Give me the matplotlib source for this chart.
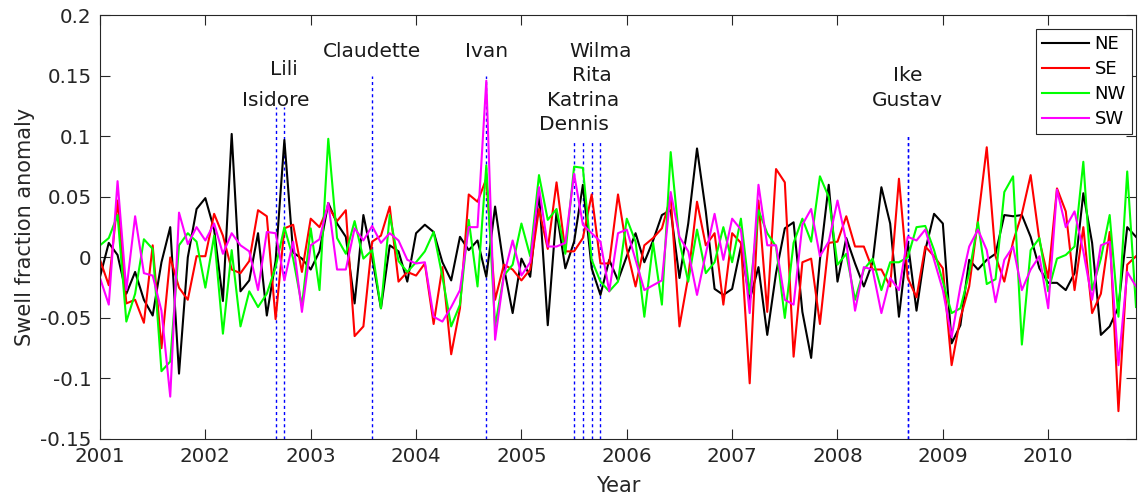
import numpy as np
import matplotlib
matplotlib.use('Agg')
import matplotlib.pyplot as plt

# monthly anomalies, Jan 2001 .. Nov 2010
ne = [-0.016, 0.012, 0.002, -0.030, -0.012, -0.035, -0.048, -0.004, 0.025, -0.096,
      0.000, 0.040, 0.049, 0.023, -0.036, 0.102, -0.028, -0.019, 0.020, -0.048,
      -0.003, 0.097, 0.004, -0.001, -0.010, 0.005, 0.045, 0.028, 0.017, -0.038,
      0.035, 0.000, -0.042, 0.010, 0.005, -0.020, 0.020, 0.027, 0.021, -0.004,
      -0.019, 0.017, 0.006, 0.014, -0.016, 0.042, -0.008, -0.046, -0.001, -0.016,
      0.054, -0.056, 0.038, -0.009, 0.013, 0.060, -0.009, -0.031, -0.002, -0.019,
      0.001, 0.020, -0.004, 0.014, 0.035, 0.039, -0.017, 0.028, 0.090, 0.038,
      -0.026, -0.031, -0.026, 0.009, -0.035, -0.008, -0.064, -0.013, 0.024, 0.029,
      -0.045, -0.083, -0.002, 0.060, -0.020, 0.016, -0.005, -0.024, -0.004, 0.058,
      0.028, -0.049, 0.013, -0.044, 0.006, 0.036, 0.028, -0.071, -0.056, -0.002,
      -0.010, -0.002, 0.003, 0.035, 0.034, 0.035, 0.017, -0.009, -0.021, -0.021,
      -0.027, -0.013, 0.053, 0.012, -0.064, -0.057, -0.041, 0.025, 0.017]
se = [-0.002, -0.023, 0.047, -0.038, -0.035, -0.054, 0.010, -0.075, 0.000, -0.025,
      -0.035, 0.001, 0.001, 0.036, 0.018, -0.010, -0.013, -0.003, 0.039, 0.034,
      -0.051, 0.024, 0.027, -0.012, 0.032, 0.025, 0.042, 0.030, 0.039, -0.065,
      -0.057, 0.013, 0.018, 0.042, -0.020, -0.012, -0.015, -0.005, -0.055, -0.008,
      -0.080, -0.042, 0.052, 0.046, 0.065, -0.035, -0.006, -0.010, -0.019, -0.010,
      0.040, 0.007, 0.062, 0.005, 0.005, 0.016, 0.052, -0.005, -0.005, 0.052,
      0.007, -0.024, 0.010, 0.016, 0.024, 0.050, -0.057, -0.016, 0.046, 0.010,
      0.020, -0.039, 0.020, 0.012, -0.104, 0.047, -0.045, 0.073, 0.062, -0.082,
      -0.004, -0.001, -0.055, 0.012, 0.013, 0.034, 0.009, 0.009, -0.010, -0.010,
      -0.024, 0.065, -0.017, -0.033, 0.009, 0.001, -0.009, -0.089, -0.050, -0.024,
      0.031, 0.091, 0.001, -0.020, 0.013, 0.036, 0.068, 0.014, -0.017, 0.057,
      0.038, -0.027, 0.025, -0.046, -0.030, 0.021, -0.127, -0.006, 0.001]
nw = [0.010, 0.016, 0.035, -0.053, -0.030, 0.015, 0.007, -0.094, -0.086, 0.010,
      0.020, 0.013, -0.025, 0.018, -0.063, 0.006, -0.057, -0.028, -0.041, -0.030,
      -0.008, 0.025, -0.001, -0.040, 0.024, -0.027, 0.098, 0.016, 0.003, 0.030,
      -0.001, 0.006, -0.042, 0.035, -0.003, -0.012, -0.004, 0.005, 0.021, -0.016,
      -0.057, -0.039, 0.031, -0.024, 0.076, -0.057, -0.015, -0.006, 0.028, 0.001,
      0.068, 0.031, 0.040, 0.003, 0.075, 0.074, -0.002, -0.020, -0.028, -0.020,
      0.032, 0.013, -0.049, 0.012, -0.039, 0.087, 0.013, -0.020, 0.023, -0.013,
      -0.004, 0.025, -0.004, 0.032, -0.030, 0.039, 0.020, 0.009, -0.050, 0.012,
      0.032, 0.013, 0.067, 0.050, -0.006, 0.003, -0.035, -0.010, -0.001, -0.027,
      -0.004, -0.004, 0.000, 0.025, 0.026, 0.006, -0.020, -0.046, -0.042, -0.013,
      0.029, -0.022, -0.018, 0.054, 0.067, -0.072, 0.006, 0.016, -0.028, -0.001,
      0.002, 0.009, 0.079, -0.027, -0.001, 0.035, -0.049, 0.071, -0.041]
sw = [-0.017, -0.039, 0.063, -0.027, 0.034, -0.013, -0.015, -0.044, -0.115, 0.037,
      0.011, 0.025, 0.014, 0.028, 0.003, 0.020, 0.010, 0.005, -0.027, 0.021,
      0.020, -0.019, 0.013, -0.045, 0.010, 0.015, 0.045, -0.010, -0.010, 0.024,
      0.014, 0.026, 0.012, 0.020, 0.014, -0.002, -0.005, -0.004, -0.049, -0.053,
      -0.041, -0.027, 0.025, 0.025, 0.146, -0.068, -0.015, 0.014, -0.015, -0.004,
      0.058, 0.009, 0.009, 0.012, 0.069, 0.027, 0.020, 0.013, -0.028, 0.020,
      0.023, -0.002, -0.027, -0.023, -0.019, 0.054, 0.017, 0.005, -0.031, 0.003,
      0.036, -0.002, 0.032, 0.023, -0.046, 0.060, 0.010, 0.010, -0.035, -0.039,
      0.027, 0.040, 0.001, 0.013, 0.047, 0.013, -0.044, -0.008, -0.010, -0.046,
      -0.017, -0.027, 0.017, 0.014, 0.023, -0.002, -0.027, -0.066, -0.024, 0.009,
      0.023, 0.006, -0.037, -0.002, 0.009, -0.027, -0.010, 0.001, -0.042, 0.056,
      0.025, 0.038, 0.005, -0.035, 0.010, 0.013, -0.089, -0.012, -0.024]

years = 2001 + np.arange(len(ne)) / 12.0

# hurricanes: name, date, top of dashed line, label height
storm_names = ['Isidore', 'Lili', 'Claudette', 'Ivan', 'Dennis', 'Katrina',
               'Rita', 'Wilma', 'Gustav', 'Ike']
storm_dates = [2002 + 8/12, 2002 + 9/12, 2003 + 7/12, 2004 + 8/12, 2005 + 6/12,
               2005 + 7/12, 2005 + 8/12, 2005 + 9/12, 2008 + 8/12, 2008 + 8/12]
storm_tops = [0.124, 0.124, 0.15, 0.15, 0.095, 0.095, 0.095, 0.095, 0.10, 0.10]
label_y = [0.13, 0.155, 0.17, 0.17, 0.11, 0.13, 0.15, 0.17, 0.13, 0.15]

plt.rcParams['font.family'] = 'DejaVu Sans'
axcol = '#262626'

fig = plt.figure(figsize=(11.38, 4.97), dpi=100)
ax = fig.add_axes([100/1138, 1 - 439/497, 1036/1138, (439 - 15.3)/497])

ymin, ymax = -0.15, 0.2
for d, top in zip(storm_dates, storm_tops):
    ax.plot([d, d], [ymin, top], color='#0000ff', lw=1.0, ls=(0, (2.2, 2.2)))
for name, d, ly in zip(storm_names, storm_dates, label_y):
    ax.text(d, ly, name, ha='center', va='center', fontsize=14.5, color='#1a1a1a')

ax.plot(years, ne, color='k', lw=1.5, label='NE')
ax.plot(years, se, color='#ff0000', lw=1.5, label='SE')
ax.plot(years, nw, color='#00ff00', lw=1.5, label='NW')
ax.plot(years, sw, color='#ff00ff', lw=1.5, label='SW')

ax.set_xlim(2001, years[-1])
ax.set_ylim(ymin, ymax)
ax.set_xticks(range(2001, 2011))
yt = [-0.15, -0.1, -0.05, 0, 0.05, 0.1, 0.15, 0.2]
ax.set_yticks(yt)
ax.set_yticklabels(['-0.15', '-0.1', '-0.05', '0', '0.05', '0.1', '0.15', '0.2'])
ax.tick_params(direction='in', length=7, width=0.8, colors=axcol,
               labelsize=14.3, top=True, right=True, pad=6)
for s in ax.spines.values():
    s.set_color(axcol)
    s.set_linewidth(0.8)

ax.set_xlabel('Year', fontsize=15, color=axcol, labelpad=7)
ax.set_ylabel('Swell fraction anomaly', fontsize=15, color=axcol, labelpad=4)

leg = ax.legend(loc='upper right', bbox_to_anchor=(0.9961, 0.9677), fontsize=13,
                frameon=True, fancybox=False, handlelength=2.6, borderaxespad=0,
                labelspacing=0.38, handletextpad=0.3, borderpad=0.35)
leg.get_frame().set_edgecolor(axcol)
leg.get_frame().set_linewidth(0.8)
leg.get_frame().set_alpha(1)

fig.savefig('out.png', dpi=100)
